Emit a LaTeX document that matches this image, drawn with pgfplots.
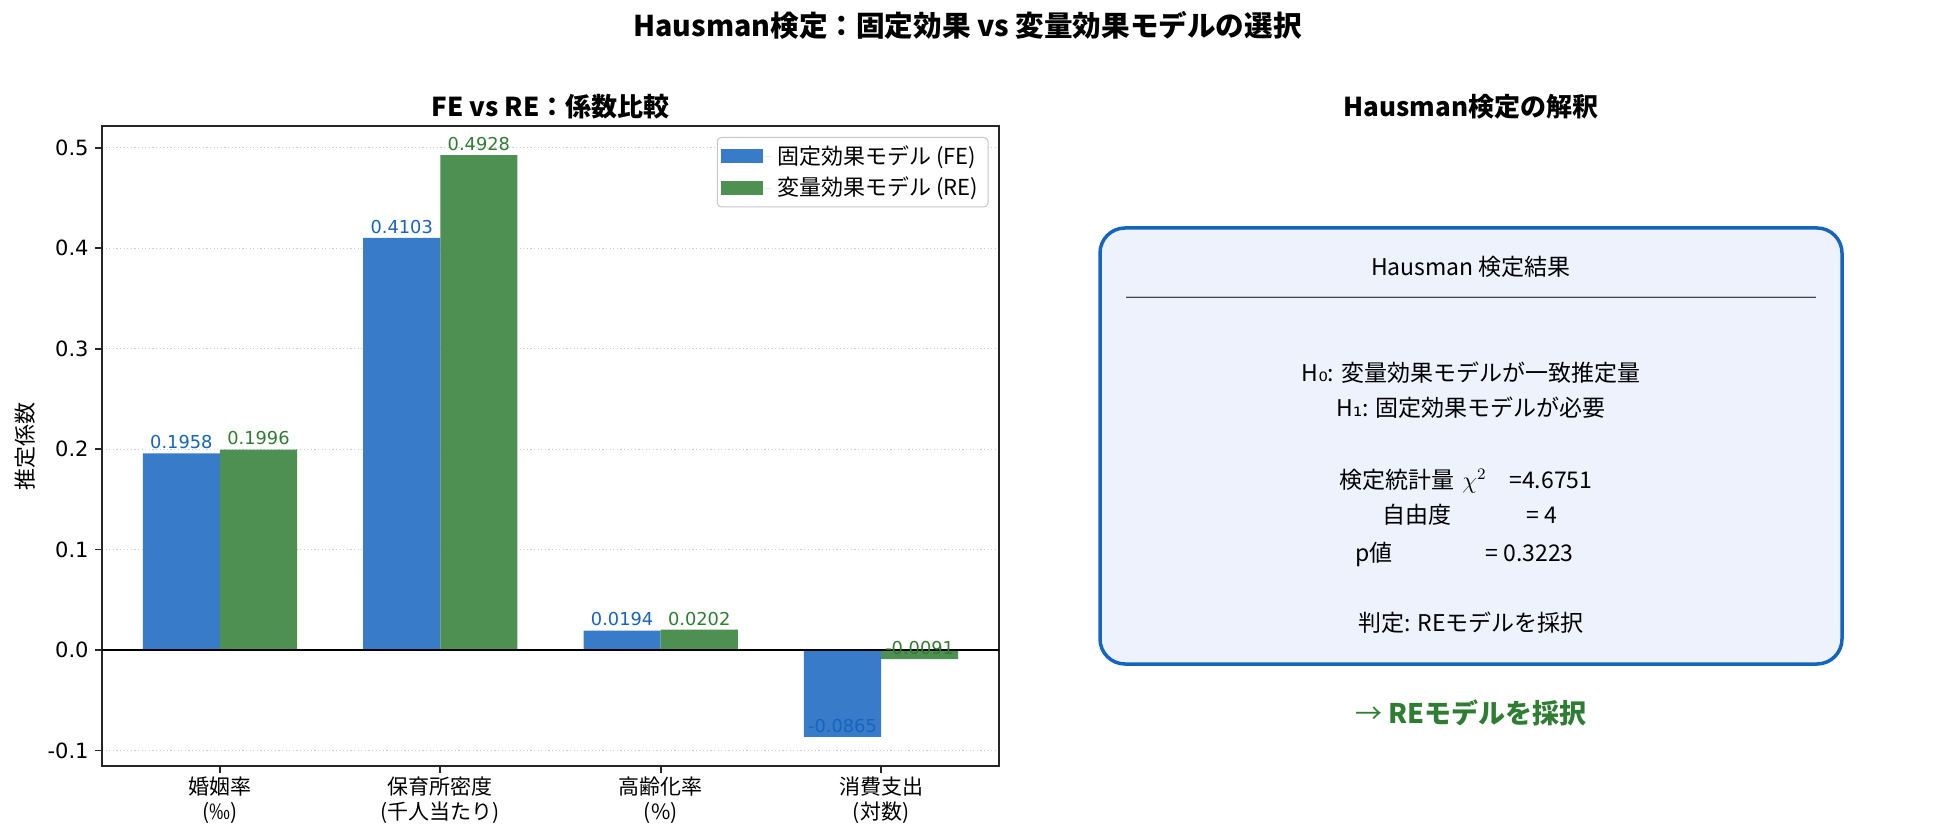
\documentclass[border=0pt]{standalone}
\usepackage{fontspec}
\setmainfont{Noto Sans CJK JP}
\newfontfamily\dejavu{DejaVu Sans}
\usepackage{pgfplots}
\pgfplotsset{compat=1.18}
\usepackage{pgfplotstable}

\definecolor{feblue}{HTML}{387CC9}
\definecolor{regreen}{HTML}{4D9051}
\definecolor{fetext}{HTML}{1565C0}
\definecolor{retext}{HTML}{2E7D32}
\definecolor{boxfill}{HTML}{EEF2FD}
\definecolor{framec}{HTML}{262626}

\newlength\px
\setlength\px{0.5pt}

% coefficients: FE and RE per variable
\pgfplotstableread{
x fe re
0 0.1958 0.1996
1 0.4103 0.4928
2 0.0194 0.0202
3 -0.0865 -0.0091
}\coef

\begin{document}
\begin{tikzpicture}[x=\px, y=-\px]
\path[use as bounding box] (0,0) rectangle (1935,840);

\node[font=\fontsize{14.3}{17}\selectfont\bfseries, anchor=center] at (967.5,25) {Hausman検定：固定効果 vs 変量効果モデルの選択};

\begin{axis}[
    at={(102\px,-766\px)}, anchor=south west,
    scale only axis, width=897\px, height=640\px,
    xmin=-0.535, xmax=3.535, ymin=-0.1155, ymax=0.5218,
    axis line style={framec, line width=0.85pt},
    tick align=outside, major tick length=3.3pt,
    tick style={framec, line width=0.85pt},
    xtick pos=bottom, ytick pos=left,
    xtick={0,1,2,3},
    xticklabels={{婚姻率\\(‰)},{保育所密度\\(千人当たり)},{高齢化率\\(\%)},{消費支出\\(対数)}},
    xticklabel style={align=center, font=\fontsize{10.5}{12.8}\selectfont, inner sep=0pt, yshift=-1.7pt},
    ytick={-0.1,0,0.1,0.2,0.3,0.4,0.5},
    yticklabel style={font=\dejavu\fontsize{10.5}{12}\selectfont, inner sep=0pt, xshift=-3.2pt,
        /pgf/number format/.cd, fixed, fixed zerofill, precision=1},
    /pgf/number format/assume math mode=true,
    ymajorgrids,
    major grid style={gray!40, line width=0.5pt, dash pattern=on 0.6pt off 1.2pt},
    ylabel={推定係数},
    ylabel style={font=\fontsize{11}{12}\selectfont, at={(axis description cs:-0.0853,0.5)}, anchor=center},
    every axis title shift=0pt,
    title={FE vs RE：係数比較},
    title style={font=\fontsize{13}{14}\selectfont\bfseries, at={(axis description cs:0.5,1.0297)}, anchor=center},
    legend style={at={(axis description cs:1,1)}, anchor=north east, xshift=-5.25pt, yshift=-5.5pt,
        draw=gray!45, line width=0.5pt, rounded corners=2pt, fill=white,
        font=\fontsize{11}{12}\selectfont, inner xsep=2pt, inner ysep=2.5pt, row sep=2pt,
        nodes={inner xsep=3pt, inner ysep=1.5pt}},
    legend cell align=left,
]
\addplot[ybar, bar width=0.35, bar shift=0, fill=feblue, draw=none,
    legend image code/.code={\fill[feblue, sharp corners] (0pt,-3.5pt) rectangle (21pt,3.5pt); \path (0pt,0pt) -- (25pt,0pt);},
    nodes near coords={\pgfmathprintnumber[fixed, fixed zerofill, precision=4]{\pgfplotspointmeta}},
    nodes near coords align={anchor=south},
    every node near coord/.append style={font=\dejavu\fontsize{8.9}{10}\selectfont, text=fetext, inner sep=0pt, yshift=2pt},
    point meta=explicit]
    table[x expr=\thisrow{x}-0.175, y=fe, meta=fe] {\coef};
\addlegendentry{固定効果モデル (FE)}
\addplot[ybar, bar width=0.35, bar shift=0, fill=regreen, draw=none,
    legend image code/.code={\fill[regreen, sharp corners] (0pt,-3.5pt) rectangle (21pt,3.5pt); \path (0pt,0pt) -- (25pt,0pt);},
    nodes near coords={\pgfmathprintnumber[fixed, fixed zerofill, precision=4]{\pgfplotspointmeta}},
    nodes near coords align={anchor=south},
    every node near coord/.append style={font=\dejavu\fontsize{8.9}{10}\selectfont, text=retext, inner sep=0pt, yshift=2pt},
    point meta=explicit]
    table[x expr=\thisrow{x}+0.175, y=re, meta=re] {\coef};
\addlegendentry{変量効果モデル (RE)}
\addplot[black, line width=1pt, forget plot] coordinates {(-0.535,0) (3.535,0)};
\end{axis}

% right panel
\node[font=\fontsize{13}{14}\selectfont\bfseries, anchor=center] at (1471,107) {Hausman検定の解釈};
\draw[fill=boxfill, draw=fetext, line width=1.75pt, rounded corners=12.5pt] (1100,228) rectangle (1842,664);
\begin{scope}[every node/.style={font=\fontsize{11.5}{13}\selectfont, inner sep=0pt}]
\node[anchor=center] at (1471,267) {Hausman 検定結果};
\node[anchor=center] at (1471,302) {──────────────────────────────};
\node[anchor=center] at (1471,373) {H{\dejavu ₀}: 変量効果モデルが一致推定量};
\node[anchor=center] at (1471,408) {H{\dejavu ₁}: 固定効果モデルが必要};
\node[anchor=base west] at (1339,488.5) {検定統計量};
\node[anchor=base west] at (1462,488.5) {$\chi^{2}$};
\node[anchor=base west] at (1509,488.5) {=4.6751};
\node[anchor=base west] at (1382,523.5) {自由度};
\node[anchor=base west] at (1526,523.5) {= 4};
\node[anchor=base west] at (1355,561.5) {p値};
\node[anchor=base west] at (1485,561.5) {= 0.3223};
\node[anchor=center] at (1471,623) {判定: REモデルを採択};
\end{scope}
\node[font=\fontsize{13.5}{15}\selectfont, text=retext, anchor=center, inner sep=0pt] at (1471,713) {→ {\bfseries REモデルを採択}};
\end{tikzpicture}
\end{document}
